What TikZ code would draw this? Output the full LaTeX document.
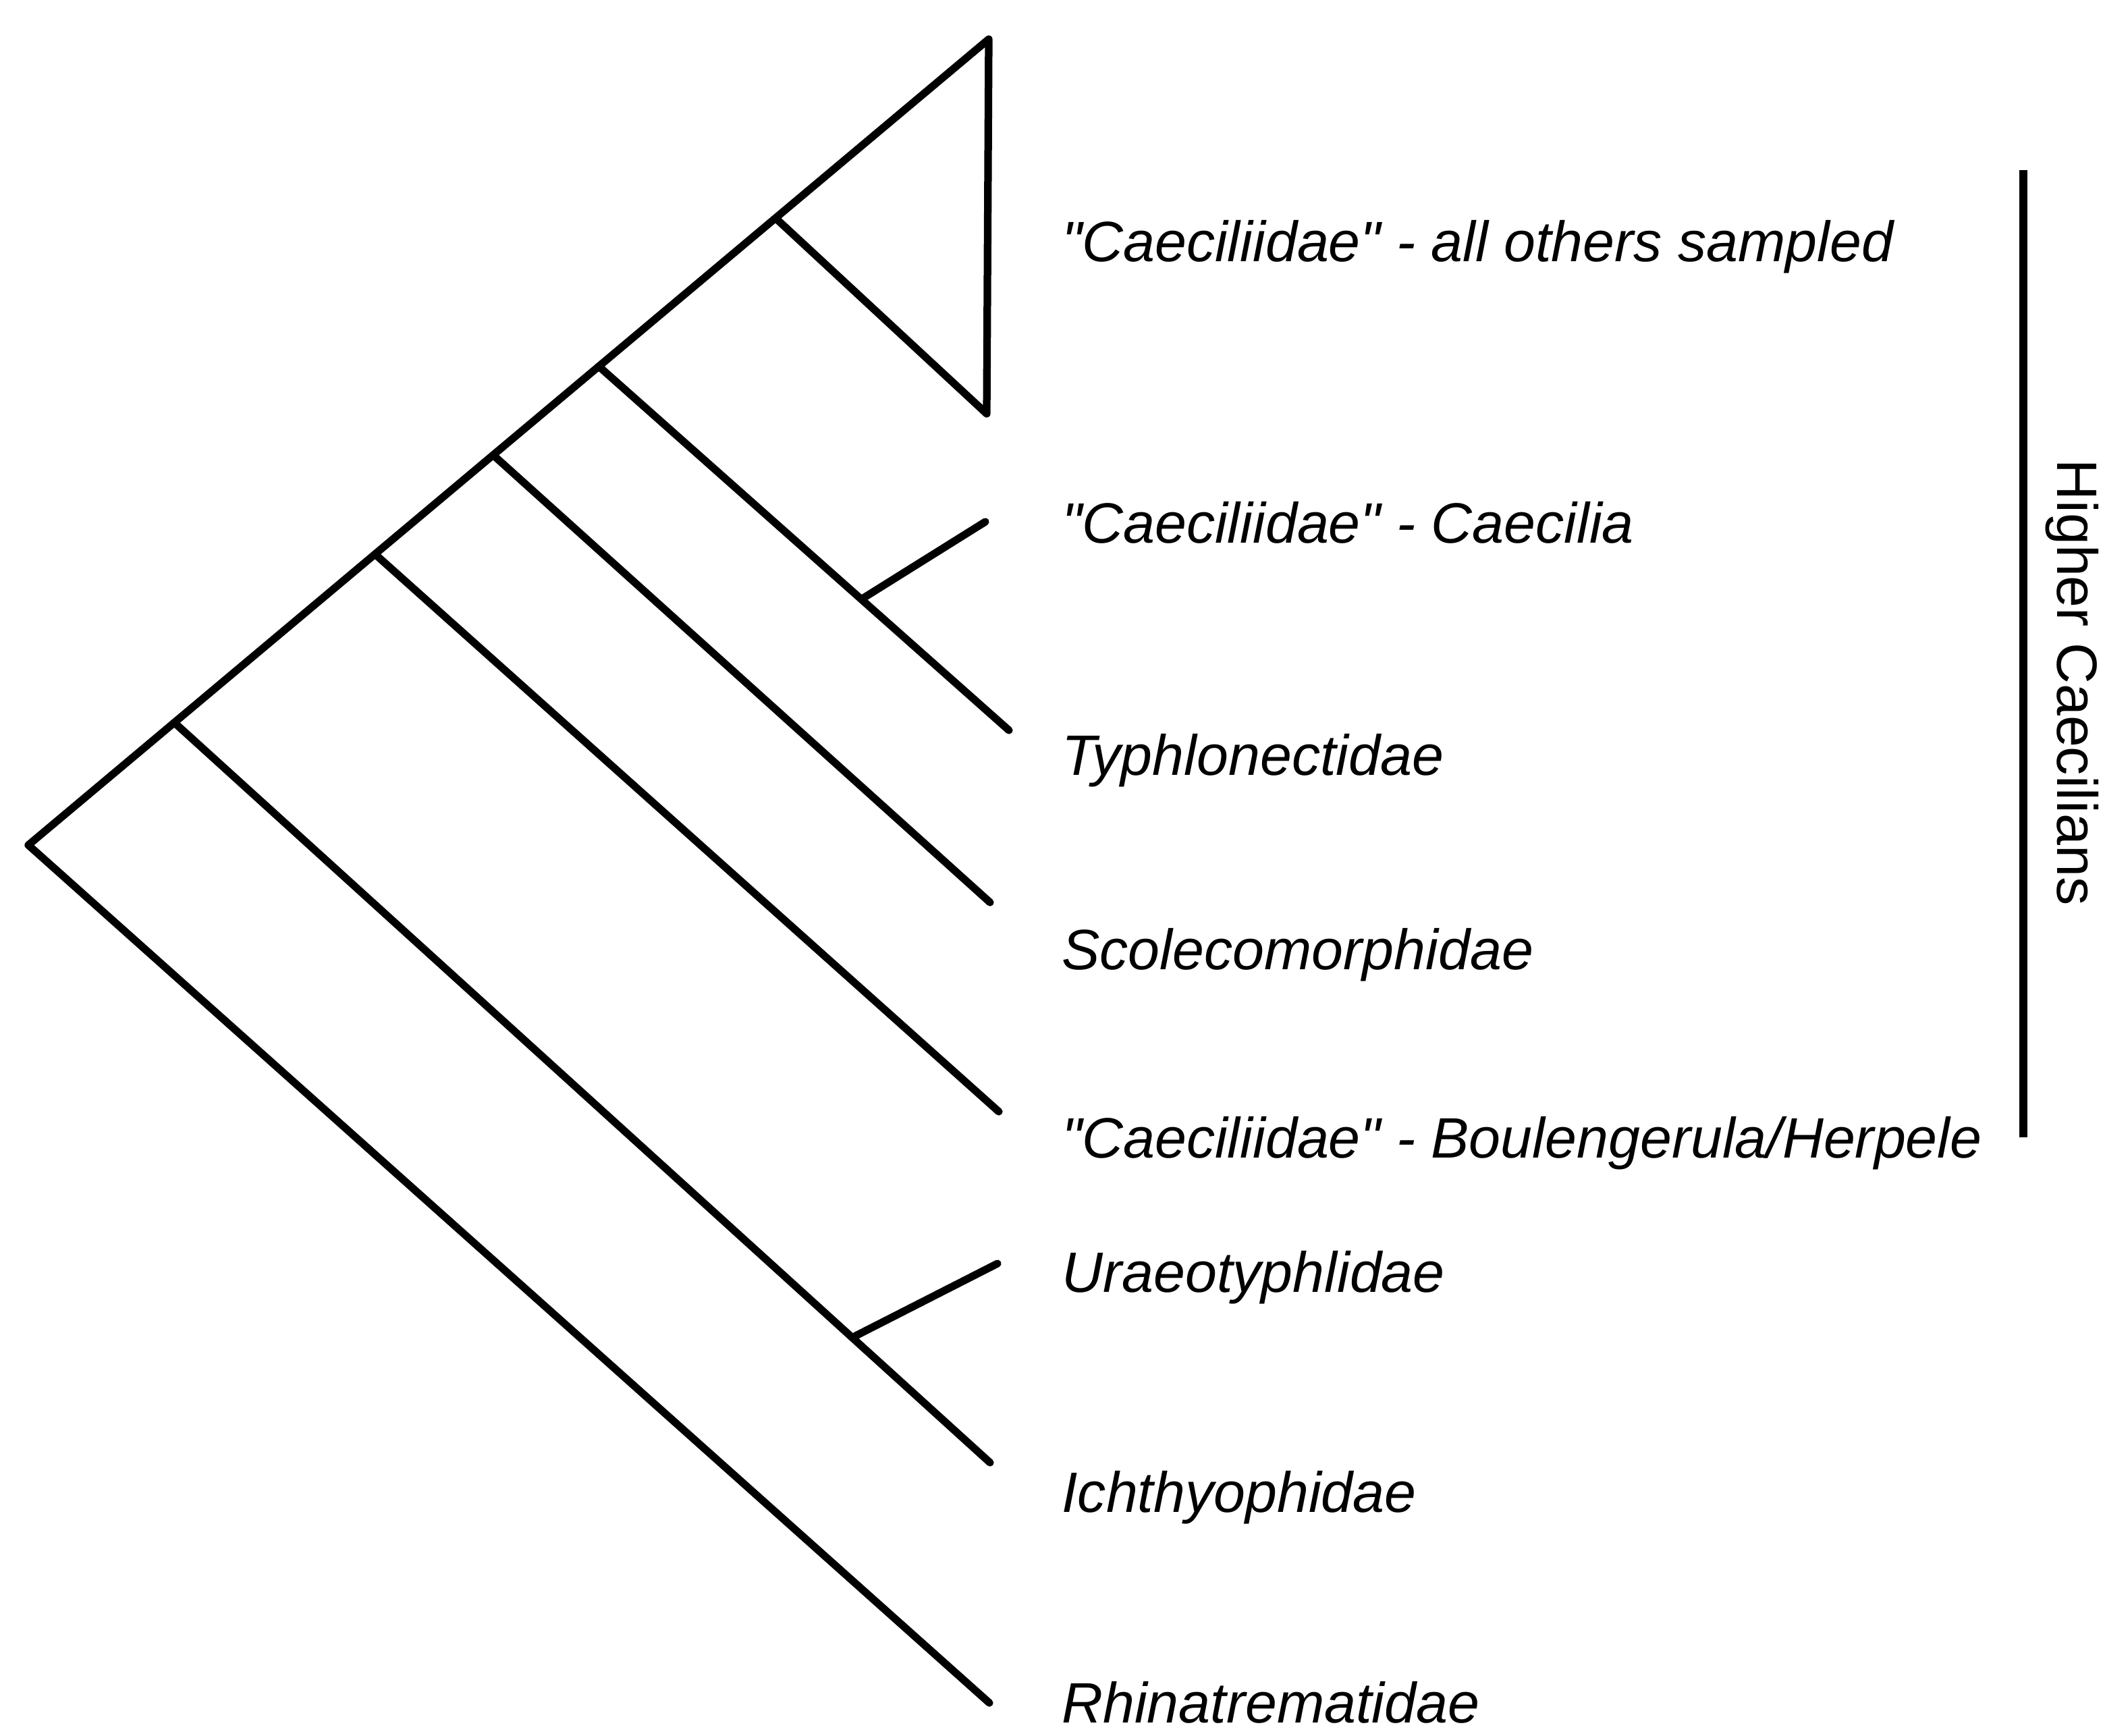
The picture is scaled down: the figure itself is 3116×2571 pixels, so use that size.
\documentclass[tikz,border=0pt]{standalone}
\usepackage{fontspec}
\setmainfont{Liberation Sans}
\usetikzlibrary{calc}
\newcommand{\dq}{\textquotedbl}

\begin{document}
\begin{tikzpicture}[
  x=0.05mm,y=-0.05mm,
  every node/.style={font=\fontsize{12}{14}\selectfont},
  branch/.style={line width=1.6pt,line cap=round,line join=round},
  taxon/.style={anchor=base west,inner sep=0pt,
                font=\fontsize{12}{14}\selectfont\itshape},
  grplbl/.style={rotate=-90,inner sep=0pt}
]
\useasboundingbox (0,0) rectangle (3116,2571);

% Backbone of the tree
\coordinate (root) at (42,1252);
\coordinate (apex) at (1465,58);
\coordinate (n1) at ($(root)!0.152!(apex)$);
\coordinate (n2) at ($(root)!0.361!(apex)$);
\coordinate (n3) at ($(root)!0.484!(apex)$);
\coordinate (n4) at ($(root)!0.594!(apex)$);
\coordinate (n5) at ($(root)!0.778!(apex)$);

% Tips
\coordinate (tribot) at (1462,613);
\coordinate (typh) at (1495,1082);
\coordinate (scol) at (1467,1337);
\coordinate (boul) at (1480,1647);
\coordinate (ichth) at (1467,2167);
\coordinate (rhin) at (1466,2523);
\coordinate (jcae) at ($(n4)!0.64!(typh)$);
\coordinate (cae) at (1460,773);
\coordinate (jura) at ($(n1)!0.831!(ichth)$);
\coordinate (ura) at (1478,1872);

% Branches
\draw[branch] (rhin) -- (root) -- (apex) -- (tribot) -- (n5);
\draw[branch] (n1) -- (ichth);
\draw[branch] (jura) -- (ura);
\draw[branch] (n2) -- (boul);
\draw[branch] (n3) -- (scol);
\draw[branch] (n4) -- (typh);
\draw[branch] (jcae) -- (cae);

% Taxon names
\node[taxon] (t1) at (1572,387) {\dq Caeciliidae\dq\ - all others sampled};
\node[taxon] (t2) at (1572,804) {\dq Caeciliidae\dq\ - Caecilia};
\node[taxon] (t3) at (1572,1148) {Typhlonectidae};
\node[taxon] (t4) at (1572,1436) {Scolecomorphidae};
\node[taxon] (t5) at (1572,1715) {\dq Caeciliidae\dq\ - Boulengerula/Herpele};
\node[taxon] (t6) at (1572,1914) {Uraeotyphlidae};
\node[taxon] (t7) at (1572,2240) {Ichthyophidae};
\node[taxon] (t8) at (1572,2552) {Rhinatrematidae};

% Higher Caecilians bracket
\coordinate (bartop) at (2998,252);
\coordinate (barbot) at (2998,1685);
\draw[branch,line cap=butt] (bartop) -- (barbot);
\node[grplbl] (hc) at (3070,1011) {Higher Caecilians};

\end{tikzpicture}
\end{document}
